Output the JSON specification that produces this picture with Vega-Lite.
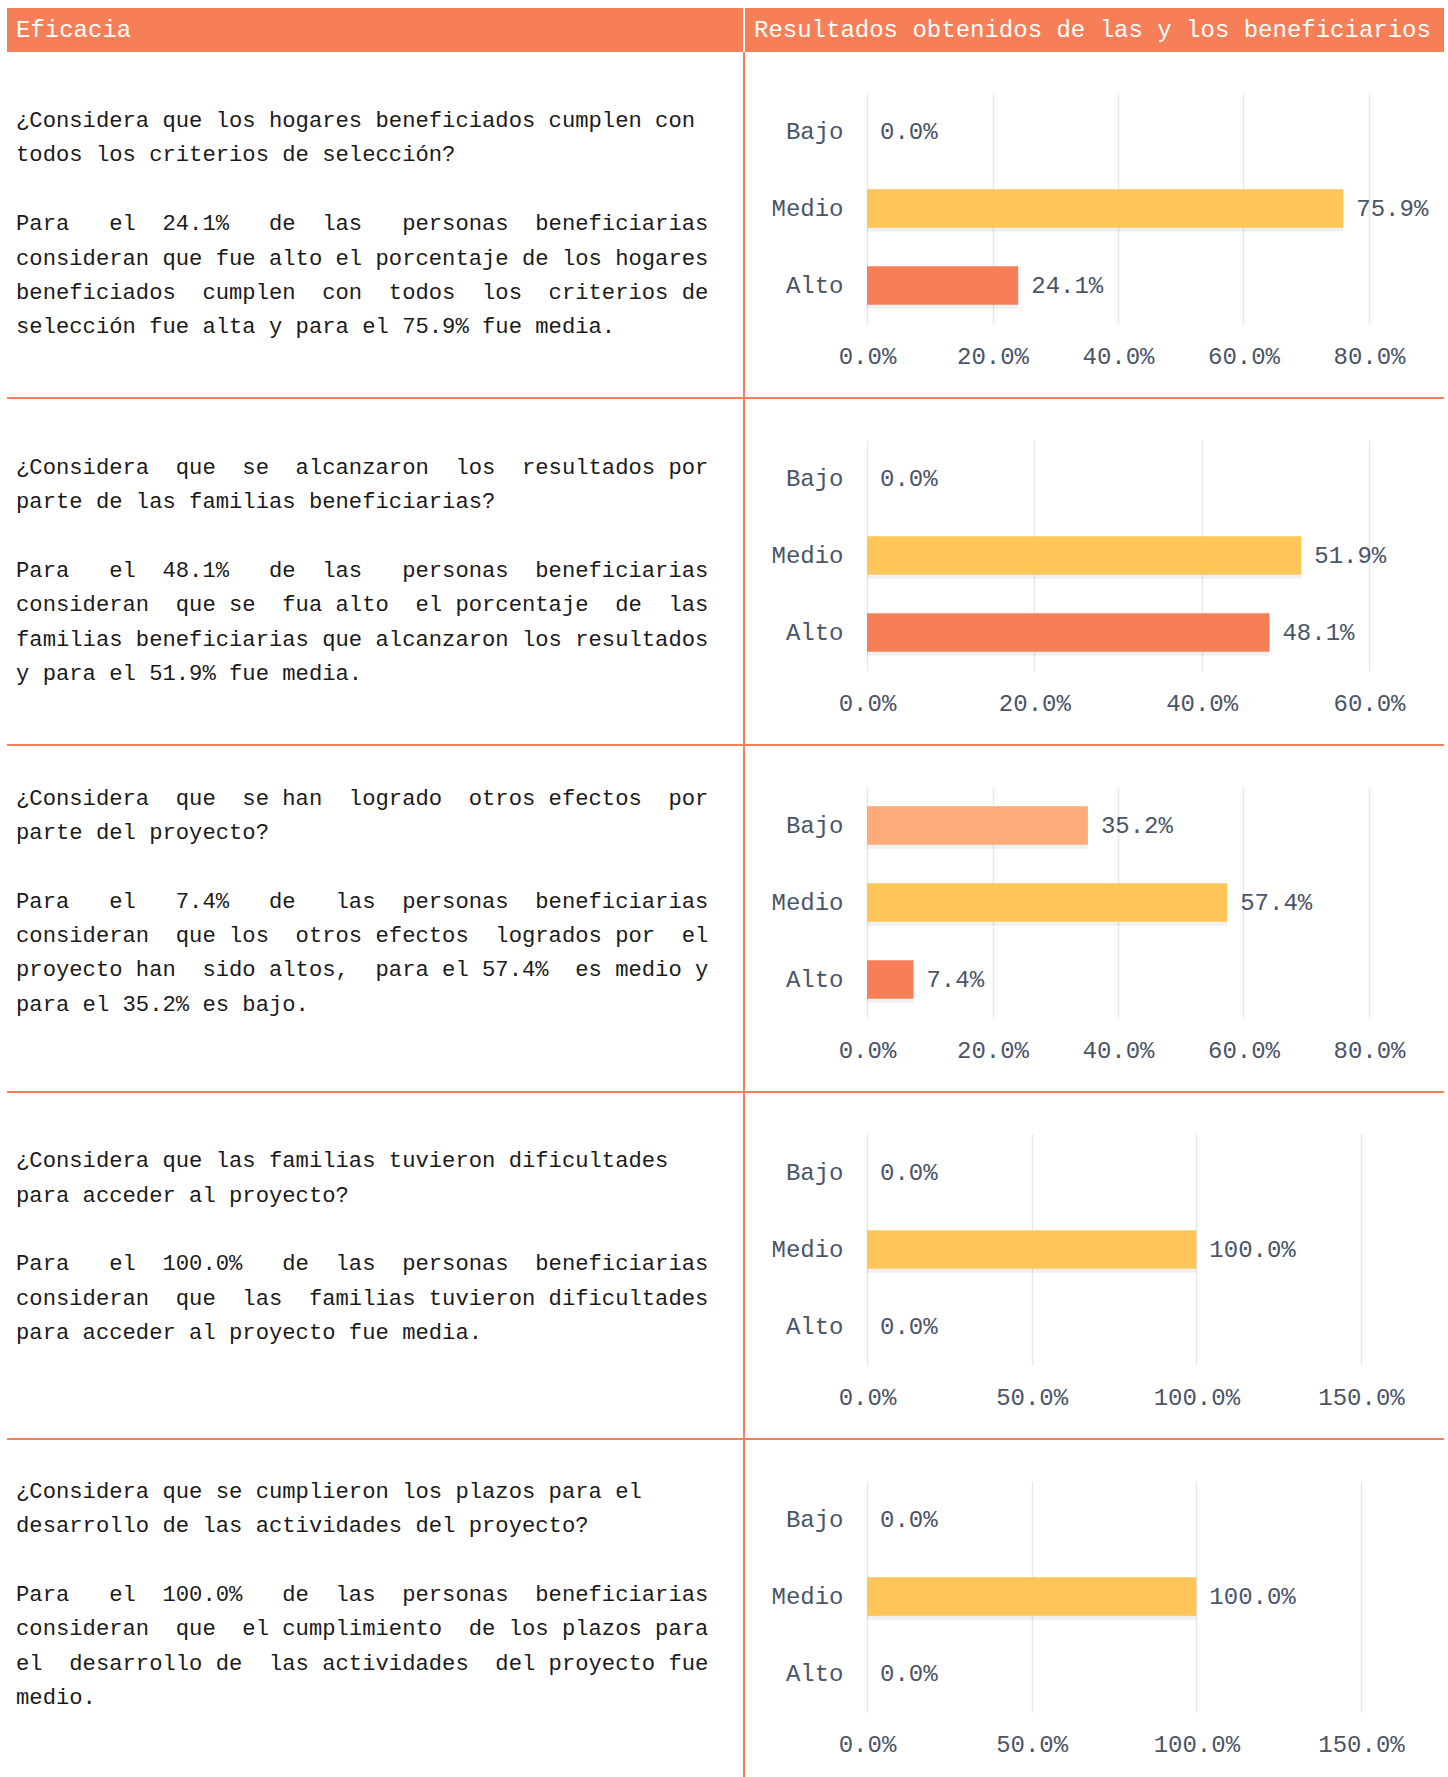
{
  "$schema": "https://vega.github.io/schema/vega-lite/v6.json",
  "padding": {"left": 7, "top": 8, "right": 4, "bottom": 0},
  "background": "#ffffff",
  "config": {
    "font": "Liberation Mono",
    "view": {"stroke": null},
    "concat": {"spacing": 0},
    "axis": {"labelFont": "Liberation Mono", "labelFontSize": 24, "labelColor": "#4A5568", "domain": false, "ticks": false, "tickSize": 0, "title": null},
    "axisX": {"grid": true, "gridColor": "#E2E8F0", "gridWidth": 1.5, "labelPadding": 20, "labelFlush": false, "labelOverlap": false, "format": ".1%"},
    "axisY": {"grid": false, "labelPadding": 24}
  },
  "datasets": {
    "barras": [
      {"pregunta": 1, "nivel": "Bajo", "valor": 0},
      {"pregunta": 1, "nivel": "Medio", "valor": 0.759},
      {"pregunta": 1, "nivel": "Alto", "valor": 0.241},
      {"pregunta": 2, "nivel": "Bajo", "valor": 0},
      {"pregunta": 2, "nivel": "Medio", "valor": 0.519},
      {"pregunta": 2, "nivel": "Alto", "valor": 0.481},
      {"pregunta": 3, "nivel": "Bajo", "valor": 0.352},
      {"pregunta": 3, "nivel": "Medio", "valor": 0.574},
      {"pregunta": 3, "nivel": "Alto", "valor": 0.074},
      {"pregunta": 4, "nivel": "Bajo", "valor": 0},
      {"pregunta": 4, "nivel": "Medio", "valor": 1.0},
      {"pregunta": 4, "nivel": "Alto", "valor": 0},
      {"pregunta": 5, "nivel": "Bajo", "valor": 0},
      {"pregunta": 5, "nivel": "Medio", "valor": 1.0},
      {"pregunta": 5, "nivel": "Alto", "valor": 0}
    ],
    "textos": [
      {"fila": 1, "linea": 0, "texto": "¿Considera que los hogares beneficiados cumplen con"},
      {"fila": 1, "linea": 1, "texto": "todos los criterios de selección?"},
      {"fila": 1, "linea": 3, "texto": "Para \u00a0\u00a0el \u00a024.1% \u00a0\u00a0de \u00a0las \u00a0\u00a0personas \u00a0beneficiarias"},
      {"fila": 1, "linea": 4, "texto": "consideran que fue alto el porcentaje de los hogares"},
      {"fila": 1, "linea": 5, "texto": "beneficiados \u00a0cumplen \u00a0con \u00a0todos \u00a0los \u00a0criterios de"},
      {"fila": 1, "linea": 6, "texto": "selección fue alta y para el 75.9% fue media."},
      {"fila": 2, "linea": 0, "texto": "¿Considera \u00a0que \u00a0se \u00a0alcanzaron \u00a0los \u00a0resultados por"},
      {"fila": 2, "linea": 1, "texto": "parte de las familias beneficiarias?"},
      {"fila": 2, "linea": 3, "texto": "Para \u00a0\u00a0el \u00a048.1% \u00a0\u00a0de \u00a0las \u00a0\u00a0personas \u00a0beneficiarias"},
      {"fila": 2, "linea": 4, "texto": "consideran \u00a0que se \u00a0fua alto \u00a0el porcentaje \u00a0de \u00a0las"},
      {"fila": 2, "linea": 5, "texto": "familias beneficiarias que alcanzaron los resultados"},
      {"fila": 2, "linea": 6, "texto": "y para el 51.9% fue media."},
      {"fila": 3, "linea": 0, "texto": "¿Considera \u00a0que \u00a0se han \u00a0logrado \u00a0otros efectos \u00a0por"},
      {"fila": 3, "linea": 1, "texto": "parte del proyecto?"},
      {"fila": 3, "linea": 3, "texto": "Para \u00a0\u00a0el \u00a0\u00a07.4% \u00a0\u00a0de \u00a0\u00a0las \u00a0personas \u00a0beneficiarias"},
      {"fila": 3, "linea": 4, "texto": "consideran \u00a0que los \u00a0otros efectos \u00a0logrados por \u00a0el"},
      {"fila": 3, "linea": 5, "texto": "proyecto han \u00a0sido altos, \u00a0para el 57.4% \u00a0es medio y"},
      {"fila": 3, "linea": 6, "texto": "para el 35.2% es bajo."},
      {"fila": 4, "linea": 0, "texto": "¿Considera que las familias tuvieron dificultades"},
      {"fila": 4, "linea": 1, "texto": "para acceder al proyecto?"},
      {"fila": 4, "linea": 3, "texto": "Para \u00a0\u00a0el \u00a0100.0% \u00a0\u00a0de \u00a0las \u00a0personas \u00a0beneficiarias"},
      {"fila": 4, "linea": 4, "texto": "consideran \u00a0que \u00a0las \u00a0familias tuvieron dificultades"},
      {"fila": 4, "linea": 5, "texto": "para acceder al proyecto fue media."},
      {"fila": 5, "linea": 0, "texto": "¿Considera que se cumplieron los plazos para el"},
      {"fila": 5, "linea": 1, "texto": "desarrollo de las actividades del proyecto?"},
      {"fila": 5, "linea": 3, "texto": "Para \u00a0\u00a0el \u00a0100.0% \u00a0\u00a0de \u00a0las \u00a0personas \u00a0beneficiarias"},
      {"fila": 5, "linea": 4, "texto": "consideran \u00a0que \u00a0el cumplimiento \u00a0de los plazos para"},
      {"fila": 5, "linea": 5, "texto": "el \u00a0desarrollo de \u00a0las actividades \u00a0del proyecto fue"},
      {"fila": 5, "linea": 6, "texto": "medio."}
    ],
    "encabezados": [
      {"columna": "izq", "titulo": "Eficacia"},
      {"columna": "der", "titulo": "Resultados obtenidos de las y los beneficiarios"}
    ]
  },
  "spacing": 0,
  "vconcat": [
    {
      "spacing": 2,
      "hconcat": [
        {"width": 736, "height": 44, "view": {"fill": "#F77F57", "stroke": null},
         "data": {"name": "encabezados"}, "transform": [{"filter": "datum.columna == 'izq'"}],
         "mark": {"type": "text", "align": "left", "baseline": "middle", "fontSize": 24, "color": "#ffffff"},
         "encoding": {"x": {"datum": 0, "type": "quantitative", "scale": {"domain": [-9, 727], "nice": false, "zero": false}, "axis": null}, "text": {"field": "titulo"}}},
        {"width": 699, "height": 44, "view": {"fill": "#F77F57", "stroke": null},
         "data": {"name": "encabezados"}, "transform": [{"filter": "datum.columna == 'der'"}],
         "mark": {"type": "text", "align": "left", "baseline": "middle", "fontSize": 24, "color": "#ffffff"},
         "encoding": {"x": {"datum": 0, "type": "quantitative", "scale": {"domain": [-9, 690], "nice": false, "zero": false}, "axis": null}, "text": {"field": "titulo"}}}
      ]
    },
    {
      "spacing": 0,
      "hconcat": [
        {"width": 736, "height": 345, "data": {"name": "textos"}, "transform": [{"filter": "datum.fila == 1"}],
         "mark": {"type": "text", "align": "left", "baseline": "middle", "fontSize": 22.2, "color": "#1A1A1A"},
         "encoding": {"x": {"datum": 0, "type": "quantitative", "scale": {"domain": [-9, 727], "nice": false, "zero": false}, "axis": null},
                      "y": {"field": "linea", "type": "quantitative", "scale": {"domain": [-1.981, 8.057], "reverse": true, "nice": false, "zero": false}, "axis": null},
                      "text": {"field": "texto"}}},
        {"width": 2, "height": 345, "view": {"fill": "#F77F57", "stroke": null}, "data": {"values": []}, "mark": "rect"},
        {"spacing": 0, "vconcat": [
          {"width": 699, "height": 41, "data": {"values": []}, "mark": "rect"},
          {"bounds": "flush", "spacing": 0, "hconcat": [
            {"width": 122, "height": 231, "data": {"values": []}, "mark": "rect"},
            {"width": 502, "height": 231, "data": {"name": "barras"}, "transform": [{"filter": "datum.pregunta == 1"}],
             "encoding": {
               "y": {"field": "nivel", "type": "nominal", "sort": ["Bajo", "Medio", "Alto"], "scale": {"paddingInner": 0.5, "paddingOuter": 0.25}},
               "x": {"field": "valor", "type": "quantitative", "scale": {"domain": [0, 0.8], "nice": false}, "axis": {"values": [0, 0.2, 0.4, 0.6, 0.8]}}
             },
             "layer": [
               {"transform": [{"filter": "datum.valor > 0"}], "mark": {"type": "bar", "color": "#000000", "opacity": 0.06, "yOffset": 4}},
               {"mark": {"type": "bar"}, "encoding": {"color": {"field": "nivel", "type": "nominal", "scale": {"domain": ["Bajo", "Medio", "Alto"], "range": ["#FDAB78", "#FEC558", "#F77F57"]}, "legend": null}}},
               {"mark": {"type": "text", "align": "left", "baseline": "middle", "dx": 13, "fontSize": 24, "color": "#4A5568"}, "encoding": {"text": {"field": "valor", "format": ".1%"}}}
             ]}
          ]}
        ]}
      ]
    },
    {"width": 1437, "height": 2, "view": {"fill": "#F77F57", "stroke": null}, "data": {"values": []}, "mark": "rect"},
    {
      "spacing": 0,
      "hconcat": [
        {"width": 736, "height": 345, "data": {"name": "textos"}, "transform": [{"filter": "datum.fila == 2"}],
         "mark": {"type": "text", "align": "left", "baseline": "middle", "fontSize": 22.2, "color": "#1A1A1A"},
         "encoding": {"x": {"datum": 0, "type": "quantitative", "scale": {"domain": [-9, 727], "nice": false, "zero": false}, "axis": null},
                      "y": {"field": "linea", "type": "quantitative", "scale": {"domain": [-1.973, 8.065], "reverse": true, "nice": false, "zero": false}, "axis": null},
                      "text": {"field": "texto"}}},
        {"width": 2, "height": 345, "view": {"fill": "#F77F57", "stroke": null}, "data": {"values": []}, "mark": "rect"},
        {"spacing": 0, "vconcat": [
          {"width": 699, "height": 41, "data": {"values": []}, "mark": "rect"},
          {"bounds": "flush", "spacing": 0, "hconcat": [
            {"width": 122, "height": 231, "data": {"values": []}, "mark": "rect"},
            {"width": 502, "height": 231, "data": {"name": "barras"}, "transform": [{"filter": "datum.pregunta == 2"}],
             "encoding": {
               "y": {"field": "nivel", "type": "nominal", "sort": ["Bajo", "Medio", "Alto"], "scale": {"paddingInner": 0.5, "paddingOuter": 0.25}},
               "x": {"field": "valor", "type": "quantitative", "scale": {"domain": [0, 0.6], "nice": false}, "axis": {"values": [0, 0.2, 0.4, 0.6]}}
             },
             "layer": [
               {"transform": [{"filter": "datum.valor > 0"}], "mark": {"type": "bar", "color": "#000000", "opacity": 0.06, "yOffset": 4}},
               {"mark": {"type": "bar"}, "encoding": {"color": {"field": "nivel", "type": "nominal", "scale": {"domain": ["Bajo", "Medio", "Alto"], "range": ["#FDAB78", "#FEC558", "#F77F57"]}, "legend": null}}},
               {"mark": {"type": "text", "align": "left", "baseline": "middle", "dx": 13, "fontSize": 24, "color": "#4A5568"}, "encoding": {"text": {"field": "valor", "format": ".1%"}}}
             ]}
          ]}
        ]}
      ]
    },
    {"width": 1437, "height": 2, "view": {"fill": "#F77F57", "stroke": null}, "data": {"values": []}, "mark": "rect"},
    {
      "spacing": 0,
      "hconcat": [
        {"width": 736, "height": 345, "data": {"name": "textos"}, "transform": [{"filter": "datum.fila == 3"}],
         "mark": {"type": "text", "align": "left", "baseline": "middle", "fontSize": 22.2, "color": "#1A1A1A"},
         "encoding": {"x": {"datum": 0, "type": "quantitative", "scale": {"domain": [-9, 727], "nice": false, "zero": false}, "axis": null},
                      "y": {"field": "linea", "type": "quantitative", "scale": {"domain": [-1.5, 8.538], "reverse": true, "nice": false, "zero": false}, "axis": null},
                      "text": {"field": "texto"}}},
        {"width": 2, "height": 345, "view": {"fill": "#F77F57", "stroke": null}, "data": {"values": []}, "mark": "rect"},
        {"spacing": 0, "vconcat": [
          {"width": 699, "height": 41, "data": {"values": []}, "mark": "rect"},
          {"bounds": "flush", "spacing": 0, "hconcat": [
            {"width": 122, "height": 231, "data": {"values": []}, "mark": "rect"},
            {"width": 502, "height": 231, "data": {"name": "barras"}, "transform": [{"filter": "datum.pregunta == 3"}],
             "encoding": {
               "y": {"field": "nivel", "type": "nominal", "sort": ["Bajo", "Medio", "Alto"], "scale": {"paddingInner": 0.5, "paddingOuter": 0.25}},
               "x": {"field": "valor", "type": "quantitative", "scale": {"domain": [0, 0.8], "nice": false}, "axis": {"values": [0, 0.2, 0.4, 0.6, 0.8]}}
             },
             "layer": [
               {"transform": [{"filter": "datum.valor > 0"}], "mark": {"type": "bar", "color": "#000000", "opacity": 0.06, "yOffset": 4}},
               {"mark": {"type": "bar"}, "encoding": {"color": {"field": "nivel", "type": "nominal", "scale": {"domain": ["Bajo", "Medio", "Alto"], "range": ["#FDAB78", "#FEC558", "#F77F57"]}, "legend": null}}},
               {"mark": {"type": "text", "align": "left", "baseline": "middle", "dx": 13, "fontSize": 24, "color": "#4A5568"}, "encoding": {"text": {"field": "valor", "format": ".1%"}}}
             ]}
          ]}
        ]}
      ]
    },
    {"width": 1437, "height": 2, "view": {"fill": "#F77F57", "stroke": null}, "data": {"values": []}, "mark": "rect"},
    {
      "spacing": 0,
      "hconcat": [
        {"width": 736, "height": 345, "data": {"name": "textos"}, "transform": [{"filter": "datum.fila == 4"}],
         "mark": {"type": "text", "align": "left", "baseline": "middle", "fontSize": 22.2, "color": "#1A1A1A"},
         "encoding": {"x": {"datum": 0, "type": "quantitative", "scale": {"domain": [-9, 727], "nice": false, "zero": false}, "axis": null},
                      "y": {"field": "linea", "type": "quantitative", "scale": {"domain": [-1.955, 8.083], "reverse": true, "nice": false, "zero": false}, "axis": null},
                      "text": {"field": "texto"}}},
        {"width": 2, "height": 345, "view": {"fill": "#F77F57", "stroke": null}, "data": {"values": []}, "mark": "rect"},
        {"spacing": 0, "vconcat": [
          {"width": 699, "height": 41, "data": {"values": []}, "mark": "rect"},
          {"bounds": "flush", "spacing": 0, "hconcat": [
            {"width": 122, "height": 231, "data": {"values": []}, "mark": "rect"},
            {"width": 494, "height": 231, "data": {"name": "barras"}, "transform": [{"filter": "datum.pregunta == 4"}],
             "encoding": {
               "y": {"field": "nivel", "type": "nominal", "sort": ["Bajo", "Medio", "Alto"], "scale": {"paddingInner": 0.5, "paddingOuter": 0.25}},
               "x": {"field": "valor", "type": "quantitative", "scale": {"domain": [0, 1.5], "nice": false}, "axis": {"values": [0, 0.5, 1.0, 1.5]}}
             },
             "layer": [
               {"transform": [{"filter": "datum.valor > 0"}], "mark": {"type": "bar", "color": "#000000", "opacity": 0.06, "yOffset": 4}},
               {"mark": {"type": "bar"}, "encoding": {"color": {"field": "nivel", "type": "nominal", "scale": {"domain": ["Bajo", "Medio", "Alto"], "range": ["#FDAB78", "#FEC558", "#F77F57"]}, "legend": null}}},
               {"mark": {"type": "text", "align": "left", "baseline": "middle", "dx": 13, "fontSize": 24, "color": "#4A5568"}, "encoding": {"text": {"field": "valor", "format": ".1%"}}}
             ]}
          ]}
        ]}
      ]
    },
    {"width": 1437, "height": 2, "view": {"fill": "#F77F57", "stroke": null}, "data": {"values": []}, "mark": "rect"},
    {
      "spacing": 0,
      "hconcat": [
        {"width": 736, "height": 337, "data": {"name": "textos"}, "transform": [{"filter": "datum.fila == 5"}],
         "mark": {"type": "text", "align": "left", "baseline": "middle", "fontSize": 22.2, "color": "#1A1A1A"},
         "encoding": {"x": {"datum": 0, "type": "quantitative", "scale": {"domain": [-9, 727], "nice": false, "zero": false}, "axis": null},
                      "y": {"field": "linea", "type": "quantitative", "scale": {"domain": [-1.484, 8.321], "reverse": true, "nice": false, "zero": false}, "axis": null},
                      "text": {"field": "texto"}}},
        {"width": 2, "height": 337, "view": {"fill": "#F77F57", "stroke": null}, "data": {"values": []}, "mark": "rect"},
        {"spacing": 0, "vconcat": [
          {"width": 699, "height": 41, "data": {"values": []}, "mark": "rect"},
          {"bounds": "flush", "spacing": 0, "hconcat": [
            {"width": 122, "height": 231, "data": {"values": []}, "mark": "rect"},
            {"width": 494, "height": 231, "data": {"name": "barras"}, "transform": [{"filter": "datum.pregunta == 5"}],
             "encoding": {
               "y": {"field": "nivel", "type": "nominal", "sort": ["Bajo", "Medio", "Alto"], "scale": {"paddingInner": 0.5, "paddingOuter": 0.25}},
               "x": {"field": "valor", "type": "quantitative", "scale": {"domain": [0, 1.5], "nice": false}, "axis": {"values": [0, 0.5, 1.0, 1.5]}}
             },
             "layer": [
               {"transform": [{"filter": "datum.valor > 0"}], "mark": {"type": "bar", "color": "#000000", "opacity": 0.06, "yOffset": 4}},
               {"mark": {"type": "bar"}, "encoding": {"color": {"field": "nivel", "type": "nominal", "scale": {"domain": ["Bajo", "Medio", "Alto"], "range": ["#FDAB78", "#FEC558", "#F77F57"]}, "legend": null}}},
               {"mark": {"type": "text", "align": "left", "baseline": "middle", "dx": 13, "fontSize": 24, "color": "#4A5568"}, "encoding": {"text": {"field": "valor", "format": ".1%"}}}
             ]}
          ]}
        ]}
      ]
    }
  ]
}
